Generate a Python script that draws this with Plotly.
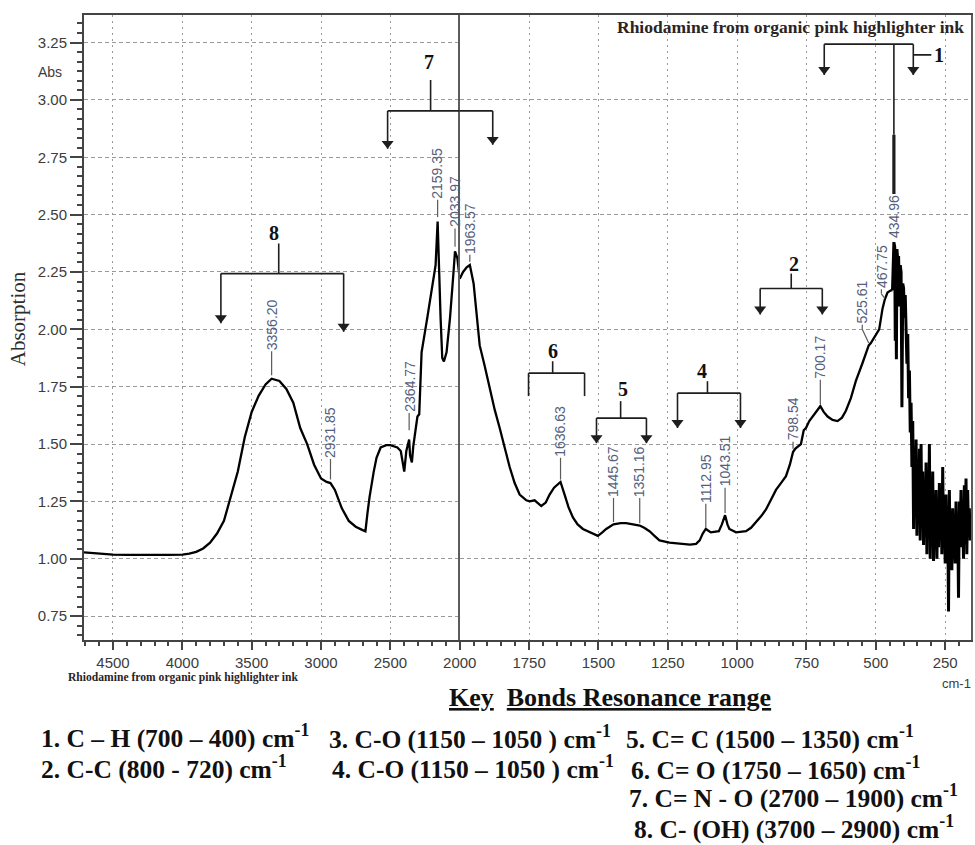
import plotly.graph_objects as go

# ---------------- spectrum (wavenumber in cm-1, absorbance) ----------------
# 4700 - 2000 cm-1 part (compressed scale)
wn_high = [4709, 4600, 4500, 4400, 4300, 4200, 4100, 4000, 3950, 3900, 3850, 3800,
           3750, 3700, 3650, 3600, 3550, 3500, 3450, 3400, 3356.2, 3300, 3250, 3200,
           3150, 3100, 3050, 3000, 2960, 2931.85, 2900, 2850, 2800, 2750, 2700, 2680,
           2665, 2650, 2620, 2600, 2570, 2530, 2500, 2450, 2425, 2410, 2400, 2385,
           2375, 2364.77, 2358, 2345, 2335, 2320, 2305, 2292, 2284, 2275, 2234, 2198,
           2174, 2159.35, 2150, 2138, 2126, 2114, 2095, 2070, 2046, 2033.97, 2017, 2000]
abs_high = [1.028, 1.022, 1.018, 1.017, 1.016, 1.016, 1.017, 1.018, 1.022, 1.030, 1.045, 1.070,
            1.110, 1.165, 1.270, 1.380, 1.530, 1.640, 1.710, 1.760, 1.785, 1.775, 1.740, 1.680,
            1.570, 1.500, 1.410, 1.350, 1.335, 1.330, 1.300, 1.220, 1.165, 1.140, 1.125, 1.120,
            1.200, 1.270, 1.380, 1.440, 1.485, 1.495, 1.495, 1.485, 1.470, 1.420, 1.380, 1.470,
            1.500, 1.520, 1.450, 1.420, 1.490, 1.550, 1.620, 1.630, 1.740, 1.900, 2.050, 2.200,
            2.280, 2.470, 2.250, 2.050, 1.875, 1.860, 1.900, 2.050, 2.240, 2.340, 2.310, 2.220]

# 2000 - 440 cm-1 part (expanded scale)
wn_low = [2000, 1988, 1975, 1963.57, 1950, 1940, 1928, 1910, 1892, 1874, 1856, 1838,
          1820, 1802, 1784, 1760, 1748, 1730, 1706, 1690, 1676, 1660, 1650, 1636.63,
          1622, 1608, 1592, 1575, 1556, 1530, 1502, 1486, 1472, 1445.67, 1420, 1400,
          1375, 1351.16, 1335, 1316, 1298, 1280, 1244, 1208, 1170, 1148, 1135, 1124,
          1112.95, 1095, 1080, 1066, 1055, 1043.51, 1035, 1028, 1004, 985, 968, 950,
          932, 914, 896, 878, 860, 842, 824, 810, 798.54, 790, 770, 760,
          752, 740, 728, 716, 700.17, 688, 674, 656, 638, 622, 608, 590,
          572, 549, 536, 525.61, 518, 500, 488, 476, 467.75, 458, 446, 440]
abs_low = [2.220, 2.250, 2.270, 2.280, 2.200, 2.080, 1.930, 1.840, 1.740, 1.650, 1.570, 1.480,
           1.400, 1.330, 1.280, 1.255, 1.250, 1.255, 1.230, 1.245, 1.280, 1.310, 1.320, 1.335,
           1.280, 1.225, 1.180, 1.150, 1.130, 1.115, 1.100, 1.115, 1.130, 1.150, 1.155, 1.155,
           1.150, 1.145, 1.135, 1.120, 1.100, 1.080, 1.070, 1.065, 1.062, 1.065, 1.080, 1.110,
           1.130, 1.115, 1.118, 1.120, 1.150, 1.190, 1.150, 1.130, 1.115, 1.118, 1.120, 1.135,
           1.160, 1.185, 1.215, 1.255, 1.300, 1.330, 1.360, 1.410, 1.465, 1.480, 1.500, 1.560,
           1.570, 1.600, 1.620, 1.640, 1.665, 1.640, 1.620, 1.605, 1.600, 1.615, 1.645, 1.700,
           1.775, 1.850, 1.900, 1.930, 1.940, 1.975, 2.000, 2.090, 2.130, 2.160, 2.170, 2.170]

# noisy far-IR tail (starts where the 2000 - 440 part ends)
wn_tail = [440, 437, 434.96, 432, 430, 428, 426, 424, 421, 418, 415, 412, 409, 406, 403, 400,
           397, 394, 391, 388, 385, 382, 379, 376, 373, 370, 367, 364, 361, 358, 355,
           352, 349, 346, 343, 340, 337, 334, 331, 328, 325, 322, 319, 316, 313, 310,
           307, 304, 301, 298, 295, 292, 289, 286, 283, 280, 277, 274, 271, 268, 265,
           262, 259, 256, 253, 250, 247, 244, 241, 238, 235, 232, 229, 226, 223, 220,
           217, 214, 211, 208, 205, 202, 199, 196, 193, 190, 187, 184, 181, 178, 175,
           172, 169, 166, 163, 160, 157]
abs_tail = [2.17, 2.30, 2.38, 2.36, 1.95, 2.33, 1.87, 2.35, 2.30, 2.32, 2.10,
            2.28, 2.25, 1.66, 2.20, 2.18, 2.05, 2.15, 1.95, 1.85, 1.98,
            1.70, 1.82, 1.55, 1.68, 1.40, 1.60, 1.13, 1.45, 1.20, 1.52,
            1.10, 1.40, 1.18, 1.48, 1.08, 1.50, 1.15, 1.38, 1.06, 1.30,
            1.12, 1.42, 1.02, 1.35, 1.10, 1.50, 1.00, 1.28, 1.08, 1.38,
            0.99, 1.22, 1.10, 1.30, 1.00, 1.20, 1.05, 1.33, 1.12, 1.25,
            1.02, 1.40, 1.08, 1.20, 0.98, 1.28, 1.05, 1.18, 0.77, 1.30,
            1.00, 1.15, 0.95, 1.22, 1.05, 1.10, 0.98, 1.25, 1.04, 1.18,
            0.83, 1.25, 1.10, 1.30, 1.05, 1.20, 1.00, 1.32, 1.10, 1.35,
            1.02, 1.30, 1.12, 1.22, 1.08, 1.15]

# ---------------- peak picks ----------------
peak_wn = [3356.20, 2931.85, 2364.77, 2159.35, 2033.97, 1963.57, 1636.63, 1445.67,
           1351.16, 1112.95, 1043.51, 798.54, 700.17, 525.61, 467.75, 434.96]
peak_text = ["3356.20", "2931.85", "2364.77", "2159.35", "2033.97", "1963.57", "1636.63",
             "1445.67", "1351.16", "1112.95", "1043.51", "798.54", "700.17", "525.61",
             "467.75", "434.96"]

# axis ticks
x_high_ticks = [4500, 4000, 3500, 3000, 2500, 2000]
x_low_ticks = [1750, 1500, 1250, 1000, 750, 500, 250]
y_ticks = [0.75, 1.00, 1.25, 1.50, 1.75, 2.00, 2.25, 2.50, 2.75, 3.00, 3.25]

# ---------------- layout constants ----------------
# horizontal positions below are given on a 975 px wide grid and scaled to the page width
W, H = 990, 845
SX = W / 975.0
ML, MR, MT, MB = 83 * SX, 2 * SX, 15, 205
PW = W - ML - MR
PH = H - MT - MB
X_SPLIT_PX = 460
SPLIT = (X_SPLIT_PX * SX - ML) / PW
BREAK = 2000
RANGE_HIGH = [4709, BREAK]
RANGE_LOW = [BREAK, 157]
RANGE_Y = [0.646, 3.37]

# one pixel in absorbance units (for arrowheads)
Y_PER_PX = (RANGE_Y[1] - RANGE_Y[0]) / PH

AX_COL = "#444444"
GRID_COL = "#9a9a9a"
TICK_FONT = dict(family="Liberation Sans", size=15, color="#3c3c3c")
PEAK_COL = "#55607c"
INK = "#1e1e1e"


def side(wn):
    return "x" if wn >= BREAK else "x2"


def px_x(px):
    return (px * SX - ML) / PW


def px_y(py):
    return (H - MB - py) / PH


fig = go.Figure()

# spectrum
fig.add_trace(go.Scatter(x=wn_high, y=abs_high, mode="lines", xaxis="x", yaxis="y",
                         line=dict(color="black", width=2.3), hoverinfo="skip", showlegend=False))
fig.add_trace(go.Scatter(x=wn_low, y=abs_low, mode="lines", xaxis="x2", yaxis="y2",
                         line=dict(color="black", width=2.3), hoverinfo="skip", showlegend=False))
fig.add_trace(go.Scatter(x=wn_tail, y=abs_tail, mode="lines", xaxis="x2", yaxis="y2",
                         line=dict(color="black", width=3.0), hoverinfo="skip", showlegend=False))

shapes = []
annotations = []


def _seg(xref, x0, y0, x1, y1, width, color):
    shapes.append(dict(type="line", xref=xref, yref="y", x0=x0, y0=y0, x1=x1, y1=y1,
                       line=dict(color=color, width=width), layer="above"))


def line(x0, y0, x1, y1, width=1.6, color=INK):
    """Line in data coordinates; a horizontal line across the 2000 cm-1 break is split."""
    hi, lo = max(x0, x1), min(x0, x1)
    if hi > BREAK > lo:
        _seg("x", hi, y0, BREAK, y1, width, color)
        _seg("x2", BREAK, y0, lo, y1, width, color)
    else:
        _seg(side(x0), x0, y0, x1, y1, width, color)


# ---------------- peak labels ----------------
# (label position along x, base of the rotated label, lower end of leader line)
label_pos = {
    "3356.20": (3356.20, 1.905, 1.80),
    "2931.85": (2931.85, 1.435, 1.345),
    "2364.77": (2364.77, 1.635, 1.56),
    "2159.35": (2159.35, 2.565, 2.49),
    "2033.97": (2033.97, 2.44, 2.36),
    "1963.57": (1963.57, 2.325, 2.295),
    "1636.63": (1636.63, 1.44, 1.345),
    "1445.67": (1445.67, 1.265, 1.16),
    "1351.16": (1351.16, 1.265, 1.155),
    "1112.95": (1112.95, 1.24, 1.135),
    "1043.51": (1043.51, 1.31, 1.20),
    "798.54": (798.54, 1.51, 1.48),
    "700.17": (700.17, 1.78, 1.675),
    "525.61": (549, 2.02, 1.94),
    "467.75": (480, 2.175, 2.135),
    "434.96": (434.96, 2.395, None),
}
for wn, txt in zip(peak_wn, peak_text):
    lx, base, low = label_pos[txt]
    annotations.append(dict(x=lx, y=base, xref=side(lx), yref="y", text=txt, textangle=-90,
                            showarrow=False, xanchor="center", yanchor="bottom",
                            font=dict(family="Liberation Sans", size=14, color=PEAK_COL),
                            borderpad=0))
    if low is not None:
        if lx == wn:
            line(wn, base, wn, low, width=1.2, color="#5a5a5a")
        else:
            line(lx, base, lx, base - 0.02, width=1.2, color="#5a5a5a")
            line(lx, base - 0.02, wn, low, width=1.2, color="#5a5a5a")

# ---------------- brackets for the bond regions ----------------
brackets = [
    dict(num="8", lab=(3341, 2.42), stem=3305, top=2.374, bar=2.243, l=3722, r=2837, tips=(2.027, 1.99), heads=True),
    dict(num="7", lab=(2225, 3.165), stem=2210, top=3.087, bar=2.952, l=2520, r=1881, tips=(2.787, 2.804), heads=True),
    dict(num="6", lab=(1665, 1.904), stem=1665, top=1.861, bar=1.809, l=1752, r=1550, tips=(1.709, 1.709), heads=False),
    dict(num="5", lab=(1413, 1.739), stem=1420, top=1.687, bar=1.613, l=1507, r=1327, tips=(1.504, 1.504), heads=True),
    dict(num="4", lab=(1125, 1.817), stem=1107, top=1.774, bar=1.722, l=1215, r=988, tips=(1.57, 1.57), heads=True),
    dict(num="2", lab=(795, 2.283), stem=805, top=2.243, bar=2.178, l=917, r=693, tips=(2.065, 2.065), heads=True),
]
head_x = {"x": [], "x2": []}
head_y = {"x": [], "x2": []}
HEAD_R = 5.25  # triangle marker half size, px


def add_head(wn, tip):
    ax = side(wn)
    head_x[ax].append(wn)
    head_y[ax].append(tip + HEAD_R * Y_PER_PX)


for b in brackets:
    line(b["stem"], b["top"], b["stem"], b["bar"])
    line(b["l"], b["bar"], b["r"], b["bar"])
    line(b["l"], b["bar"], b["l"], b["tips"][0])
    line(b["r"], b["bar"], b["r"], b["tips"][1])
    if b["heads"]:
        add_head(b["l"], b["tips"][0])
        add_head(b["r"], b["tips"][1])
    annotations.append(dict(x=b["lab"][0], y=b["lab"][1], xref=side(b["lab"][0]), yref="y",
                            text="<b>%s</b>" % b["num"], showarrow=False,
                            font=dict(family="Liberation Serif", size=20, color="#111111")))

# bracket 1 (C-H) hanging from the top of the frame
line(686, 3.243, 365, 3.243)
line(686, 3.243, 686, 3.109)
line(365, 3.243, 365, 3.109)
add_head(686, 3.109)
add_head(365, 3.109)
line(434.96, 3.243, 434.96, 2.848, width=1.6)
line(434.96, 2.848, 434.96, 2.59, width=3.2)
line(365, 3.196, 300, 3.196)
annotations.append(dict(x=296, y=3.196, xref="x2", yref="y", text="<b>1</b>", showarrow=False,
                        xanchor="left", font=dict(family="Liberation Serif", size=20, color="#111111")))

for ax, ya in (("x", "y"), ("x2", "y2")):
    if head_x[ax]:
        fig.add_trace(go.Scatter(x=head_x[ax], y=head_y[ax], mode="markers", xaxis=ax, yaxis=ya,
                                 marker=dict(symbol="triangle-down", size=10.5, color=INK,
                                             line=dict(width=0)),
                                 hoverinfo="skip", showlegend=False, cliponaxis=False))

# ---------------- frame texts ----------------
annotations += [
    dict(x=px_x(968), y=px_y(27), xref="paper", yref="paper", xanchor="right", yanchor="middle",
         text="<b>Rhiodamine from organic pink highlighter ink</b>", showarrow=False,
         font=dict(family="Liberation Serif", size=17.5, color="#2a2424")),
    dict(x=px_x(49), y=px_y(72), xref="paper", yref="paper", xanchor="center", yanchor="middle",
         text="Abs", showarrow=False, font=dict(family="Liberation Sans", size=14, color="#3c3c3c")),
    dict(x=px_x(17), y=px_y(319), xref="paper", yref="paper", xanchor="center", yanchor="middle",
         text="Absorption", textangle=-90, showarrow=False,
         font=dict(family="Liberation Serif", size=21, color="#2e2e2e")),
    dict(x=px_x(182), y=px_y(677), xref="paper", yref="paper", xanchor="center", yanchor="middle",
         text="<b>Rhiodamine from organic pink highlighter ink</b>", showarrow=False,
         font=dict(family="Liberation Serif", size=11.6, color="#2a2424")),
    dict(x=px_x(975), y=px_y(683), xref="paper", yref="paper", xanchor="right", yanchor="middle",
         text="cm-1", showarrow=False, font=dict(family="Liberation Sans", size=13, color="#3c3c3c")),
    dict(x=px_x(447), y=px_y(697), xref="paper", yref="paper", xanchor="left", yanchor="middle",
         text="<b><u>Key</u>  <u>Bonds Resonance range</u></b>", showarrow=False,
         font=dict(family="Liberation Serif", size=26, color="#111111")),
]

# key of bond assignments
key_text = [
    "1. C – H (700 – 400) cm<sup>-1</sup>",
    "2. C-C (800 - 720) cm<sup>-1</sup>",
    "3. C-O (1150 – 1050 ) cm<sup>-1</sup>",
    "4. C-O (1150 – 1050 ) cm<sup>-1</sup>",
    "5. C= C (1500 – 1350) cm<sup>-1</sup>",
    "6. C= O (1750 – 1650) cm<sup>-1</sup>",
    "7. C= N - O (2700 – 1900) cm<sup>-1</sup>",
    "8. C- (OH) (3700 – 2900) cm<sup>-1</sup>",
]
key_px = [(38, 736), (38, 767), (327, 737), (330, 767), (625, 737), (630, 768), (628, 797), (633, 827)]
for txt, (kx, ky) in zip(key_text, key_px):
    annotations.append(dict(x=px_x(kx), y=px_y(ky), xref="paper", yref="paper",
                            xanchor="left", yanchor="middle", text="<b>%s</b>" % txt,
                            showarrow=False,
                            font=dict(family="Liberation Serif", size=25.5, color="#111111")))

common_x = dict(showgrid=True, gridcolor=GRID_COL, gridwidth=1.4, griddash="2px,4px",
                showline=True, linecolor=AX_COL, linewidth=2, mirror=True,
                ticks="outside", ticklen=8, tickwidth=1.5, tickcolor=AX_COL,
                tickfont=TICK_FONT, zeroline=False, fixedrange=True)

fig.update_layout(
    width=W, height=H, autosize=False,
    margin=dict(l=ML, r=MR, t=MT, b=MB),
    paper_bgcolor="white", plot_bgcolor="white",
    showlegend=False,
    xaxis=dict(domain=[0, SPLIT], range=RANGE_HIGH, anchor="y", tickmode="array",
               tickvals=x_high_ticks, ticktext=[str(v) for v in x_high_ticks],
               minor=dict(dtick=100, tick0=0, ticks="outside", ticklen=4, tickcolor=AX_COL,
                          showgrid=False),
               **common_x),
    xaxis2=dict(domain=[SPLIT, 1], range=RANGE_LOW, anchor="y2", tickmode="array",
                tickvals=x_low_ticks, ticktext=[str(v) for v in x_low_ticks],
                minor=dict(dtick=50, tick0=0, ticks="outside", ticklen=4, tickcolor=AX_COL,
                           showgrid=False),
                **common_x),
    yaxis=dict(domain=[0, 1], range=RANGE_Y, anchor="x", tickmode="array", tickvals=y_ticks,
               ticktext=["%.2f" % v for v in y_ticks],
               showgrid=True, gridcolor=GRID_COL, gridwidth=1.4, griddash="4px,3px",
               showline=True, linecolor=AX_COL, linewidth=2, mirror=False,
               ticks="outside", ticklen=12, tickwidth=1.5, tickcolor=AX_COL,
               minor=dict(dtick=0.25 / 6, tick0=0.75, ticks="outside", ticklen=5,
                          tickcolor=AX_COL, showgrid=False),
               tickfont=TICK_FONT, zeroline=False, fixedrange=True),
    yaxis2=dict(domain=[0, 1], range=RANGE_Y, anchor="x2", matches="y",
                showticklabels=False, ticks="",
                showgrid=True, gridcolor=GRID_COL, gridwidth=1.4, griddash="4px,3px",
                showline=True, linecolor="#5c5c5c", linewidth=2, mirror=True,
                zeroline=False, fixedrange=True),
    shapes=shapes,
    annotations=annotations,
)

fig.write_html("out.html", config={"responsive": False})
